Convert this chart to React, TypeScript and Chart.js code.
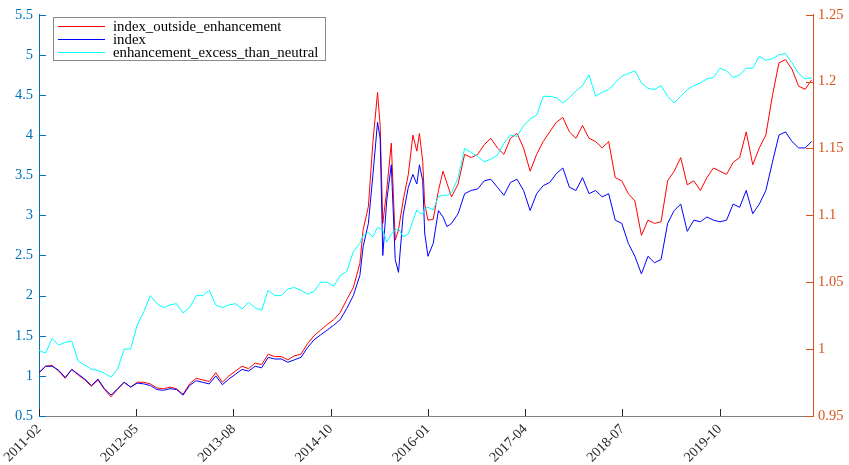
import React, { useEffect, useRef } from "react";
import { Chart, registerables } from "chart.js";

Chart.register(...registerables);

// x position (months since 2011-02, trading-time scale)
const months = [
  0, 1, 2, 3, 4, 5, 6, 7, 8, 9,
  10, 11, 12, 13, 14, 15, 16, 17, 18, 19,
  20, 21, 22, 23, 24, 25, 26, 27, 28, 29,
  30, 31, 32, 33, 34, 35, 36, 37, 38, 39,
  40, 41, 42, 43, 44, 45, 46, 47, 48, 49,
  49.5, 50.3, 51, 51.7, 52.1, 52.5, 53.1, 53.8, 54.4, 54.9, 55.6, 56.4, 57.1, 57.7, 58.1, 58.6, 58.9, 59.4, 60.2, 61, 61.7, 62.3, 63,
  64, 65, 66, 67, 68, 69, 70, 71, 72, 73,
  74, 75, 76, 77, 78, 79, 80, 81, 82, 83,
  84, 85, 86, 87, 88, 89, 90, 91, 92, 93,
  94, 95, 96, 97, 98, 99, 100, 101, 102, 103,
  104, 105, 106, 107, 108, 109, 110, 111, 112, 113,
  114, 115, 116, 117, 118,
];

const indexOutsideEnhancement = [
  1.04, 1.12, 1.13, 1.06, 0.97, 1.08, 1.01, 0.95, 0.87, 0.95,
  0.83, 0.74, 0.83, 0.92, 0.86, 0.92, 0.92, 0.90, 0.85, 0.84,
  0.86, 0.84, 0.77, 0.90, 0.97, 0.95, 0.93, 1.04, 0.92, 1.00,
  1.06, 1.12, 1.09, 1.16, 1.14, 1.27, 1.24, 1.24, 1.20, 1.25,
  1.27, 1.40, 1.50, 1.57, 1.64, 1.70, 1.79, 1.95, 2.10, 2.40,
  2.82, 3.11, 3.92, 4.53, 4.12, 2.90, 3.31, 3.90, 2.69, 2.82, 3.18, 3.51, 4.00, 3.80, 4.02, 3.67, 3.14, 2.94, 2.95, 3.31, 3.55, 3.40, 3.23,
  3.39, 3.76, 3.72, 3.76, 3.88, 3.96, 3.84, 3.76, 3.96, 4.02,
  3.84, 3.55, 3.76, 3.92, 4.04, 4.16, 4.22, 4.04, 3.96, 4.12,
  3.96, 3.92, 3.84, 3.92, 3.47, 3.43, 3.27, 3.18, 2.75, 2.94,
  2.90, 2.92, 3.43, 3.55, 3.72, 3.38, 3.43, 3.31, 3.47, 3.59,
  3.55, 3.51, 3.66, 3.72, 4.04, 3.63, 3.84, 4.00, 4.49, 4.90,
  4.94, 4.82, 4.61, 4.57, 4.69,
];

const indexValues = [
  1.04, 1.12, 1.12, 1.07, 0.98, 1.08, 1.02, 0.96, 0.88, 0.96,
  0.84, 0.76, 0.84, 0.92, 0.86, 0.91, 0.90, 0.88, 0.83, 0.82,
  0.84, 0.83, 0.76, 0.88, 0.94, 0.92, 0.90, 1.00, 0.89, 0.96,
  1.02, 1.08, 1.06, 1.12, 1.10, 1.23, 1.21, 1.21, 1.17, 1.20,
  1.23, 1.35, 1.45, 1.51, 1.57, 1.63, 1.70, 1.84, 2.00, 2.25,
  2.61, 2.90, 3.51, 4.16, 3.96, 2.50, 3.18, 3.63, 2.45, 2.29, 3.00, 3.35, 3.51, 3.39, 3.63, 3.43, 2.78, 2.49, 2.65, 3.06, 2.98, 2.86, 2.90,
  3.02, 3.27, 3.31, 3.33, 3.43, 3.45, 3.35, 3.25, 3.41, 3.45,
  3.31, 3.06, 3.27, 3.37, 3.41, 3.52, 3.59, 3.35, 3.31, 3.47,
  3.27, 3.31, 3.23, 3.27, 2.94, 2.90, 2.65, 2.49, 2.27, 2.49,
  2.41, 2.45, 2.90, 3.06, 3.14, 2.80, 2.94, 2.92, 2.98, 2.94,
  2.92, 2.94, 3.14, 3.10, 3.31, 3.02, 3.14, 3.31, 3.66, 4.00,
  4.04, 3.92, 3.84, 3.84, 3.92,
];

const enhancementExcessThanNeutral = [
  0.999, 0.997, 1.008, 1.003, 1.005, 1.006, 0.991, 0.988, 0.985, 0.984,
  0.982, 0.979, 0.985, 1.000, 1.000, 1.018, 1.028, 1.040, 1.034, 1.031,
  1.033, 1.034, 1.027, 1.031, 1.040, 1.040, 1.044, 1.033, 1.031, 1.033,
  1.034, 1.030, 1.035, 1.031, 1.029, 1.044, 1.040, 1.040, 1.045, 1.046,
  1.044, 1.041, 1.043, 1.050, 1.050, 1.047, 1.055, 1.058, 1.073, 1.079,
  1.085, 1.087, 1.084, 1.091, 1.090, 1.089, 1.080, 1.086, 1.089, 1.090, 1.084, 1.086, 1.096, 1.104, 1.102, 1.101, 1.105, 1.106, 1.104, 1.114, 1.115, 1.115, 1.117,
  1.128, 1.150, 1.147, 1.144, 1.140, 1.142, 1.145, 1.154, 1.160, 1.159,
  1.167, 1.172, 1.175, 1.189, 1.189, 1.188, 1.184, 1.188, 1.193, 1.197,
  1.205, 1.189, 1.192, 1.194, 1.199, 1.204, 1.206, 1.208, 1.199, 1.195,
  1.194, 1.197, 1.189, 1.184, 1.189, 1.194, 1.197, 1.199, 1.202, 1.203,
  1.210, 1.208, 1.203, 1.205, 1.210, 1.210, 1.219, 1.216, 1.217, 1.220,
  1.221, 1.214, 1.206, 1.202, 1.203,
];

const xTickValues = [0, 14.85, 29.7, 44.55, 59.4, 74.25, 89.1, 103.95];
const xTickLabels = ["2011-02", "2012-05", "2013-08", "2014-10", "2016-01", "2017-04", "2018-07", "2019-10"];

const seriesLabels = ["index_outside_enhancement", "index", "enhancement_excess_than_neutral"];
const seriesColors = ["#FF0000", "#0000FF", "#00FFFF"];

const LEFT_COLOR = "#0072BD";
const RIGHT_COLOR = "#D95319";
const SERIF = '"Liberation Serif", "Times New Roman", serif';

const fmt = (v: number) => String(parseFloat(Number(v).toFixed(2)));

const inwardTicks = {
  id: "inwardTicks",
  afterDatasetsDraw(chart: any) {
    const { ctx, chartArea } = chart;
    const len = 7;
    ctx.save();
    ctx.lineWidth = 1;
    const yl = chart.scales.y;
    ctx.strokeStyle = LEFT_COLOR;
    yl.ticks.forEach((t: any) => {
      const p = Math.round(yl.getPixelForValue(t.value)) + 0.5;
      ctx.beginPath();
      ctx.moveTo(chartArea.left, p);
      ctx.lineTo(chartArea.left + len, p);
      ctx.stroke();
    });
    const yr = chart.scales.y1;
    ctx.strokeStyle = RIGHT_COLOR;
    yr.ticks.forEach((t: any) => {
      const p = Math.round(yr.getPixelForValue(t.value)) + 0.5;
      ctx.beginPath();
      ctx.moveTo(chartArea.right - len, p);
      ctx.lineTo(chartArea.right, p);
      ctx.stroke();
    });
    const xs = chart.scales.x;
    ctx.strokeStyle = "#262626";
    xs.ticks.forEach((t: any) => {
      const p = Math.round(xs.getPixelForValue(t.value)) + 0.5;
      ctx.beginPath();
      ctx.moveTo(p, chartArea.bottom);
      ctx.lineTo(p, chartArea.bottom - len);
      ctx.stroke();
    });
    ctx.restore();
  },
};

const boxLegend = {
  id: "boxLegend",
  afterDraw(chart: any) {
    const { ctx } = chart;
    ctx.save();
    ctx.fillStyle = "#ffffff";
    ctx.fillRect(53.5, 17.5, 272, 43);
    ctx.strokeStyle = "#8a8a8a";
    ctx.lineWidth = 1;
    ctx.strokeRect(53.5, 17.5, 272, 43);
    const rows = [26, 39, 52];
    ctx.font = `14.8px ${SERIF}`;
    ctx.textBaseline = "middle";
    ctx.textAlign = "left";
    seriesLabels.forEach((label, i) => {
      const y = rows[i] + 0.5;
      ctx.strokeStyle = seriesColors[i];
      ctx.beginPath();
      ctx.moveTo(58, y);
      ctx.lineTo(105, y);
      ctx.stroke();
      ctx.fillStyle = "#000000";
      ctx.fillText(label, 113, rows[i] + 1);
    });
    ctx.restore();
  },
};

export default function App() {
  const ref = useRef<HTMLCanvasElement>(null);

  useEffect(() => {
    const toPoints = (vals: number[]) => months.map((m, i) => ({ x: m, y: vals[i] }));
    const chart = new Chart(ref.current as HTMLCanvasElement, {
      type: "line",
      data: {
        datasets: [
          {
            label: seriesLabels[0],
            data: toPoints(indexOutsideEnhancement),
            borderColor: seriesColors[0],
            backgroundColor: seriesColors[0],
            borderWidth: 1,
            pointRadius: 0,
            tension: 0,
            yAxisID: "y",
            order: 3,
          },
          {
            label: seriesLabels[1],
            data: toPoints(indexValues),
            borderColor: seriesColors[1],
            backgroundColor: seriesColors[1],
            borderWidth: 1,
            pointRadius: 0,
            tension: 0,
            yAxisID: "y",
            order: 2,
          },
          {
            label: seriesLabels[2],
            data: toPoints(enhancementExcessThanNeutral),
            borderColor: seriesColors[2],
            backgroundColor: seriesColors[2],
            borderWidth: 1,
            pointRadius: 0,
            tension: 0,
            yAxisID: "y1",
            order: 1,
          },
        ],
      },
      options: {
        responsive: false,
        animation: false,
        devicePixelRatio: 1,
        layout: { padding: { top: 7, left: 0, right: 0, bottom: 0 } },
        plugins: { legend: { display: false }, tooltip: { enabled: false } },
        scales: {
          x: {
            type: "linear",
            min: 0,
            max: 118.2,
            afterBuildTicks: (s: any) => {
              s.ticks = xTickValues.map((v) => ({ value: v }));
            },
            afterFit: (s: any) => {
              s.height = 49;
              s.paddingLeft = 0;
              s.paddingRight = 0;
            },
            ticks: {
              autoSkip: false,
              maxRotation: 45,
              minRotation: 45,
              padding: 5,
              color: "#262626",
              font: { family: SERIF, size: 14 },
              callback: (v: any) => {
                const i = xTickValues.indexOf(Number(v));
                return i >= 0 ? xTickLabels[i] : "";
              },
            },
            grid: { display: false, drawTicks: false },
            border: { display: true, color: "#808080", width: 1 },
          },
          y: {
            type: "linear",
            position: "left",
            min: 0.5,
            max: 5.5,
            afterFit: (s: any) => {
              s.width = 39;
            },
            ticks: {
              stepSize: 0.5,
              padding: 6,
              color: LEFT_COLOR,
              font: { family: SERIF, size: 14.5 },
              callback: (v: any) => fmt(v),
            },
            grid: { display: false, drawTicks: false },
            border: { display: true, color: LEFT_COLOR, width: 1 },
          },
          y1: {
            type: "linear",
            position: "right",
            min: 0.95,
            max: 1.25,
            afterFit: (s: any) => {
              s.width = 36;
            },
            ticks: {
              stepSize: 0.05,
              padding: 5,
              color: RIGHT_COLOR,
              font: { family: SERIF, size: 14.5 },
              callback: (v: any) => fmt(v),
            },
            grid: { display: false, drawTicks: false },
            border: { display: true, color: RIGHT_COLOR, width: 1 },
          },
        },
      },
      plugins: [inwardTicks, boxLegend],
    } as any);
    return () => chart.destroy();
  }, []);

  return (
    <div style={{ position: "absolute", left: 0, top: 0, width: 849, height: 465, background: "#ffffff" }}>
      <canvas ref={ref} width={849} height={465} />
    </div>
  );
}
